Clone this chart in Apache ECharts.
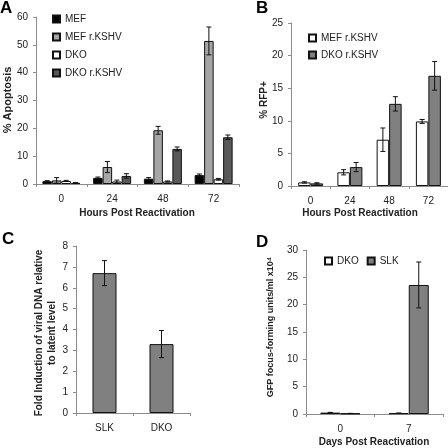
<!DOCTYPE html>
<html><head><meta charset="utf-8">
<script src="https://cdn.jsdelivr.net/npm/echarts@6/dist/echarts.min.js"></script>
<style>html,body{margin:0;padding:0;background:#fff}#c{width:448px;height:448px}</style>
</head><body><div id="c"></div>
<script>
// Panel A
const catsA = ['0', '24', '48', '72'];
const aMEF = [1.0, 2.2, 1.9, 3.2];
const aMEFerr = [0.2, 0.3, 0.4, 0.4];
const aMEFr = [1.3, 6.1, 19.3, 51.4];
const aMEFrErr = [1.0, 2.0, 1.4, 5.0];
const aDKO = [1.1, 0.9, 0.9, 1.7];
const aDKOerr = [0.2, 0.5, 0.2, 0.3];
const aDKOr = [0.4, 2.9, 12.6, 16.8];
const aDKOrErr = [0.1, 0.8, 0.7, 0.8];
// Panel B
const catsB = ['0', '24', '48', '72'];
const bMEFr = [0.55, 2.1, 7.1, 9.9];
const bMEFrErr = [0.1, 0.4, 1.8, 0.3];
const bDKOr = [0.4, 2.9, 12.6, 16.9];
const bDKOrErr = [0.1, 0.7, 1.1, 2.2];
// Panel C
const catsC = ['SLK', 'DKO'];
const cVals = [6.7, 3.3];
const cErr = [0.6, 0.65];
// Panel D
const catsD = ['0', '7'];
const dDKO = [0.25, 0.15];
const dDKOerr = [0.05, 0.02];
const dSLK = [0.1, 23.6];
const dSLKerr = [0.02, 4.2];

const FONT = 'Arial';
const AX = '#8c8c8c';
const TXT = '#222';

function xAx(gi, cats) {
  return {type: 'category', gridIndex: gi, data: cats,
    axisLine: {lineStyle: {color: AX}}, axisTick: {show: true, lineStyle: {color: AX}, length: 3},
    axisLabel: {fontFamily: FONT, fontSize: 10, color: TXT, margin: 10}};
}
function yAx(gi, max, interval) {
  return {type: 'value', gridIndex: gi, min: 0, max: max, interval: interval,
    axisLine: {show: true, lineStyle: {color: AX}}, axisTick: {show: true, lineStyle: {color: AX}, length: 3},
    splitLine: {show: false},
    axisLabel: {fontFamily: FONT, fontSize: 10, color: TXT, margin: 8}};
}
function bar(name, gi, vals, color, bw) {
  return {type: 'bar', name: name, xAxisIndex: gi, yAxisIndex: gi, data: vals,
    barWidth: bw, barGap: '0%',
    itemStyle: {color: color, borderColor: '#111', borderWidth: 1}};
}
function err(gi, vals, errs, offset) {
  return {type: 'custom', name: 'err' + gi + '_' + offset, xAxisIndex: gi, yAxisIndex: gi, z: 10,
    data: vals.map((v, i) => [i, v - errs[i], v + errs[i]]),
    encode: {x: 0, y: [1, 2]},
    renderItem: function (params, api) {
      const p1 = api.coord([api.value(0), api.value(1)]);
      const p2 = api.coord([api.value(0), api.value(2)]);
      const x = p1[0] + offset;
      const cw = 2.5;
      const st = {stroke: '#111', lineWidth: 1};
      return {type: 'group', children: [
        {type: 'line', shape: {x1: x, y1: p1[1], x2: x, y2: p2[1]}, style: st},
        {type: 'line', shape: {x1: x - cw, y1: p1[1], x2: x + cw, y2: p1[1]}, style: st},
        {type: 'line', shape: {x1: x - cw, y1: p2[1], x2: x + cw, y2: p2[1]}, style: st}
      ]};
    }};
}
function title(text, x, y, rot, size) {
  return {type: 'text', x: x, y: y, rotation: rot ? Math.PI / 2 : 0,
    style: {text: text, font: 'bold ' + size + 'px ' + FONT, fill: TXT, align: 'center', verticalAlign: 'middle'}};
}
function letter(text, x, y) {
  return {type: 'text', x: x, y: y, style: {text: text, font: 'bold 17px ' + FONT, fill: '#000'}};
}

const bwA = 9.5, bwB = 12.5, bwC = 24, bwD = 20;
const legText = {fontFamily: FONT, fontSize: 10, color: TXT};

const option = {
  animation: false,
  textStyle: {fontFamily: FONT},
  grid: [
    {left: 36, top: 17, width: 203, height: 167},
    {left: 291, top: 23, width: 157, height: 163},
    {left: 76, top: 246, width: 114, height: 167},
    {left: 306, top: 250, width: 137, height: 164}
  ],
  xAxis: [xAx(0, catsA), xAx(1, catsB), xAx(2, catsC), xAx(3, catsD)],
  yAxis: [yAx(0, 60, 10), yAx(1, 25, 5), yAx(2, 8, 1), yAx(3, 30, 5)],
  legend: [
    {orient: 'vertical', left: 47, top: 9, itemWidth: 7, itemHeight: 7, itemGap: 8,
     icon: 'rect', textStyle: legText, selectedMode: false,
     data: ['MEF', 'MEF r.KSHV', 'DKO', 'DKO r.KSHV']},
    {orient: 'vertical', left: 303, top: 28, itemWidth: 7, itemHeight: 7, itemGap: 7,
     icon: 'rect', textStyle: legText, selectedMode: false,
     data: [{name: 'MEF r.KSHV', itemStyle: {color: '#ffffff'}},
            {name: 'DKO r.KSHV', itemStyle: {color: '#808080'}}]},
    {orient: 'horizontal', left: 319, top: 251, itemWidth: 7, itemHeight: 7, itemGap: 8,
     icon: 'rect', textStyle: legText, selectedMode: false,
     data: [{name: 'DKO', itemStyle: {color: '#ffffff'}},
            {name: 'SLK', itemStyle: {color: '#808080'}}]}
  ],
  series: [
    bar('MEF', 0, aMEF, '#000000', bwA),
    bar('MEF r.KSHV', 0, aMEFr, '#a6a6a6', bwA),
    bar('DKO', 0, aDKO, '#ffffff', bwA),
    bar('DKO r.KSHV', 0, aDKOr, '#595959', bwA),
    err(0, aMEF, aMEFerr, -1.5 * bwA),
    err(0, aMEFr, aMEFrErr, -0.5 * bwA),
    err(0, aDKO, aDKOerr, 0.5 * bwA),
    err(0, aDKOr, aDKOrErr, 1.5 * bwA),
    bar('MEF r.KSHV', 1, bMEFr, '#ffffff', bwB),
    bar('DKO r.KSHV', 1, bDKOr, '#808080', bwB),
    err(1, bMEFr, bMEFrErr, -0.5 * bwB),
    err(1, bDKOr, bDKOrErr, 0.5 * bwB),
    bar('Fold', 2, cVals, '#808080', bwC),
    err(2, cVals, cErr, 0),
    bar('DKO', 3, dDKO, '#ffffff', bwD),
    bar('SLK', 3, dSLK, '#808080', bwD),
    err(3, dDKO, dDKOerr, -0.5 * bwD),
    err(3, dSLK, dSLKerr, 0.5 * bwD)
  ],
  graphic: [
    letter('A', 0, 0), letter('B', 256, 0), letter('C', 2, 231), letter('D', 256, 234),
    title('% Apoptosis', 8, 100, true, 11),
    title('Hours Post Reactivation', 137, 213, false, 10),
    title('% RFP+', 264, 100, true, 10),
    title('Hours Post Reactivation', 360, 213, false, 10),
    title('Fold Induction of viral DNA relative', 39, 333, true, 10),
    title('to latent level', 52, 333, true, 10),
    title('GFP focus-forming units/ml x10⁴', 271, 327, true, 9),
    title('Days Post Reactivation', 374, 442, false, 10)
  ]
};
const chart = echarts.init(document.getElementById('c'), null, {renderer: 'canvas'});
chart.setOption(option);
</script></body></html>
